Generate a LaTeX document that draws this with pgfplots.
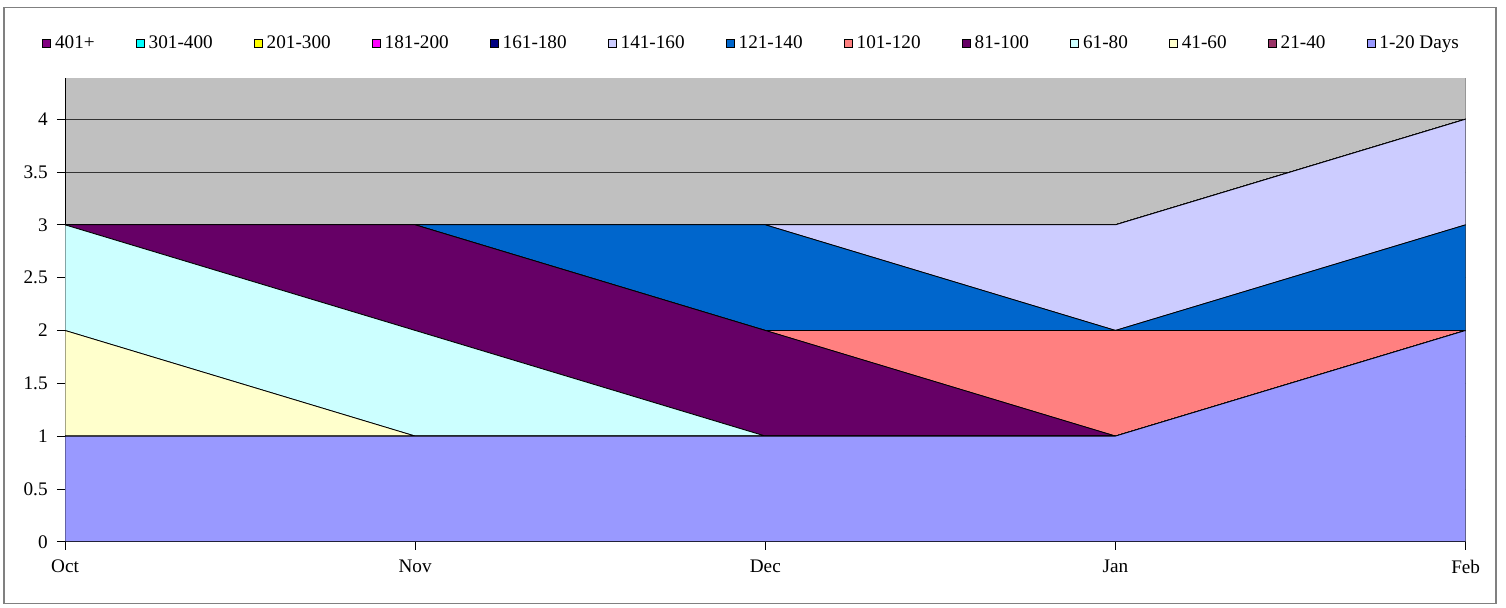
\documentclass[border=0pt]{standalone}
\usepackage{pgfplots}
\usepackage{pgfplotstable}
\pgfplotsset{compat=1.18}
\usepackage{fontspec}
\setmainfont{Liberation Serif}
\definecolor{cA}{HTML}{9999FF}
\definecolor{cB}{HTML}{993366}
\definecolor{cC}{HTML}{FFFFCC}
\definecolor{cD}{HTML}{CCFFFF}
\definecolor{cE}{HTML}{660066}
\definecolor{cF}{HTML}{FF8080}
\definecolor{cG}{HTML}{0066CC}
\definecolor{cH}{HTML}{CCCCFF}
\definecolor{cI}{HTML}{000080}
\definecolor{cJ}{HTML}{FF00FF}
\definecolor{cK}{HTML}{FFFF00}
\definecolor{cL}{HTML}{00FFFF}
\definecolor{cM}{HTML}{800080}
\definecolor{bg}{HTML}{C0C0C0}
\definecolor{frame}{HTML}{808080}
\pgfplotstableread{
x a b c d e f g h i j k l m
0 1 0 1 1 0 0 0 0 0 0 0 0 0
1 1 0 0 1 1 0 0 0 0 0 0 0 0
2 1 0 0 0 1 0 1 0 0 0 0 0 0
3 1 0 0 0 0 1 0 1 0 0 0 0 0
4 2 0 0 0 0 0 1 1 0 0 0 0 0
}\data
\begin{document}
\begin{tikzpicture}
\begin{axis}[
  at={(0,0)}, anchor=south west,
  width=1050.5pt, height=347.8pt, scale only axis,
  xmin=0, xmax=4, ymin=0, ymax=4.39,
  stack plots=y,
  axis background/.style={fill=bg},
  axis x line*=bottom, axis y line*=left,
  axis line style={black, line width=0.6pt},
  ytick={0,0.5,...,4},
  yticklabels={0,0.5,1,1.5,2,2.5,3,3.5,4},
  xtick={0,1,2,3,4},
  xticklabels={Oct,Nov,Dec,Jan,Feb},
  tick align=outside,
  major tick length=6pt,
  tick style={black, line width=0.6pt},
  ymajorgrids,
  grid style={black!80, line width=0.6pt},
  /pgf/number format/assume math mode=true,
  tick label style={font=\fontsize{14.4}{16}\selectfont},
  yticklabel style={xshift=-3.5pt},
  xticklabel style={yshift=-4pt},
  legend style={at={(0.4905,1.0755)}, anchor=center, draw=none, fill=none,
    font=\fontsize{14.4}{16}\selectfont, column sep=1pt,
    /tikz/every even column/.append style={column sep=29pt}},
  legend columns=13,
  reverse legend,
  legend image code/.code={\draw[#1, draw=black, line width=0.5pt] (0pt,-3pt) rectangle (6pt,3pt);},
]
\addplot[fill=cA, draw=black, line width=0.6pt] table[x=x,y=a]{\data} \closedcycle;
\addplot[fill=cB, draw=black, line width=0.6pt] table[x=x,y=b]{\data} \closedcycle;
\addplot[fill=cC, draw=black, line width=0.6pt] table[x=x,y=c]{\data} \closedcycle;
\addplot[fill=cD, draw=black, line width=0.6pt] table[x=x,y=d]{\data} \closedcycle;
\addplot[fill=cE, draw=black, line width=0.6pt] table[x=x,y=e]{\data} \closedcycle;
\addplot[fill=cF, draw=black, line width=0.6pt] table[x=x,y=f]{\data} \closedcycle;
\addplot[fill=cG, draw=black, line width=0.6pt] table[x=x,y=g]{\data} \closedcycle;
\addplot[fill=cH, draw=black, line width=0.6pt] table[x=x,y=h]{\data} \closedcycle;
\addplot[fill=cI, draw=black, line width=0.6pt] table[x=x,y=i]{\data} \closedcycle;
\addplot[fill=cJ, draw=black, line width=0.6pt] table[x=x,y=j]{\data} \closedcycle;
\addplot[fill=cK, draw=black, line width=0.6pt] table[x=x,y=k]{\data} \closedcycle;
\addplot[fill=cL, draw=black, line width=0.6pt] table[x=x,y=l]{\data} \closedcycle;
\addplot[fill=cM, draw=black, line width=0.6pt] table[x=x,y=m]{\data} \closedcycle;
\legend{1-20 Days,21-40,41-60,61-80,81-100,101-120,121-140,141-160,161-180,181-200,201-300,301-400,401+}
\draw[frame, line width=0.6pt] (rel axis cs:1,0) -- (rel axis cs:1,1);
\end{axis}
\draw[frame, line width=0.8pt] (-45.75pt,-46pt) rectangle (1073.25pt,401pt);
\pgfresetboundingbox
\useasboundingbox (-48.75pt,-49pt) rectangle (1080.75pt,406.3pt);
\end{tikzpicture}
\end{document}
